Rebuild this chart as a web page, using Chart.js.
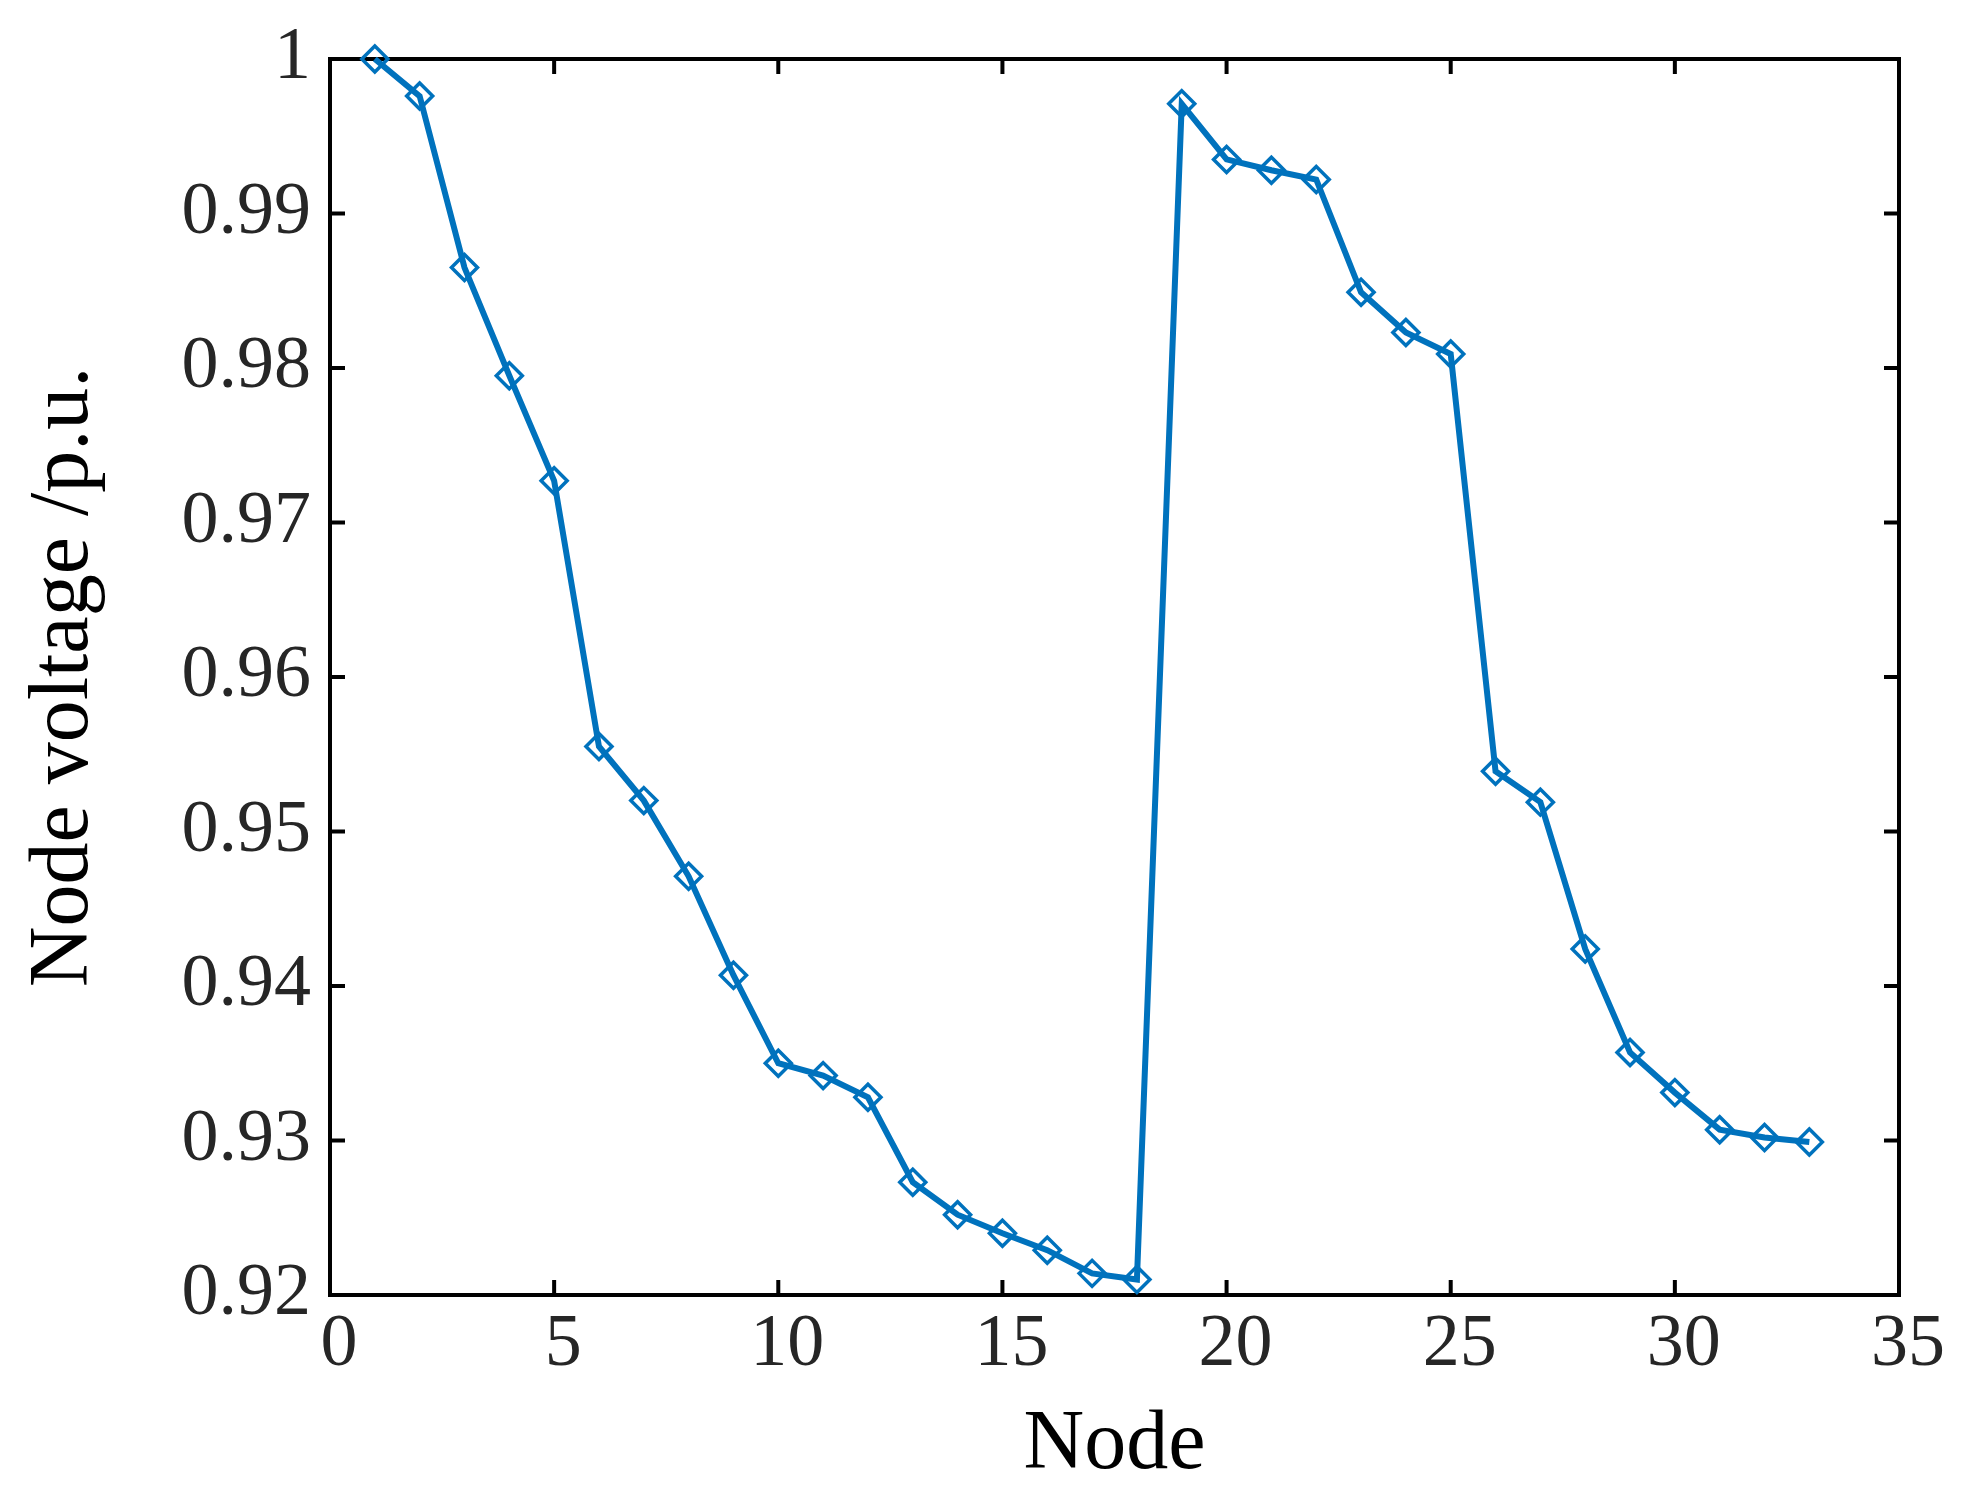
<!DOCTYPE html>
<html>
<head>
<meta charset="utf-8">
<script src="https://cdn.jsdelivr.net/npm/chart.js@4.4.1/dist/chart.umd.min.js"></script>
<style>
html,body{margin:0;padding:0;background:#ffffff;}
canvas{display:block;}
</style>
</head>
<body>
<canvas id="c" width="1967" height="1497"></canvas>
<script>
// ---- data ----
const nodes = [1,2,3,4,5,6,7,8,9,10,11,12,13,14,15,16,17,18,19,20,21,22,23,24,25,26,27,28,29,30,31,32,33];
const voltage = [1.0000,0.9976,0.9865,0.9795,0.9727,0.9555,0.9520,0.9471,0.9407,0.9350,
                 0.9342,0.9328,0.9273,0.9252,0.9240,0.9229,0.9214,0.9210,0.9971,0.9935,
                 0.9928,0.9922,0.9849,0.9823,0.9809,0.9539,0.9519,0.9424,0.9357,0.9331,
                 0.9307,0.9302,0.9299];
const xTickValues = [0,5,10,15,20,25,30,35];
const xTickLabels = ['0','5','10','15','20','25','30','35'];
const yTickValues = [0.92,0.93,0.94,0.95,0.96,0.97,0.98,0.99,1.00];
const yTickLabels = ['0.92','0.93','0.94','0.95','0.96','0.97','0.98','0.99','1'];
const xTitle = 'Node';
const yTitle = 'Node voltage /p.u.';

const lineColor = '#0072BD';
const tickColor = '#262626';

const framePlugin = {
  id: 'frame',
  beforeDatasetsDraw(chart) {
    const {ctx, chartArea: a, scales: {x, y}} = chart;
    const L = 15;
    ctx.save();
    ctx.strokeStyle = '#000000';
    ctx.lineWidth = 4;
    ctx.strokeRect(a.left, a.top, a.right - a.left, a.bottom - a.top);
    ctx.beginPath();
    x.ticks.forEach(t => {
      const px = x.getPixelForValue(t.value);
      ctx.moveTo(px, a.bottom); ctx.lineTo(px, a.bottom - L);
      ctx.moveTo(px, a.top); ctx.lineTo(px, a.top + L);
    });
    y.ticks.forEach(t => {
      const py = y.getPixelForValue(t.value);
      ctx.moveTo(a.left, py); ctx.lineTo(a.left + L, py);
      ctx.moveTo(a.right, py); ctx.lineTo(a.right - L, py);
    });
    ctx.stroke();
    ctx.restore();
  }
};

function labelFor(values, labels, v) {
  for (let i = 0; i < values.length; i++) {
    if (Math.abs(values[i] - v) < 1e-9) return labels[i];
  }
  return '';
}

new Chart(document.getElementById('c'), {
  type: 'line',
  data: {
    datasets: [{
      data: nodes.map((n, i) => ({x: n, y: voltage[i]})),
      borderColor: lineColor,
      borderWidth: 6,
      pointStyle: 'rectRot',
      pointRadius: 13,
      pointBorderWidth: 3.5,
      pointBorderColor: lineColor,
      pointBackgroundColor: 'rgba(0,0,0,0)',
      tension: 0,
      clip: false
    }]
  },
  options: {
    responsive: false,
    animation: false,
    devicePixelRatio: 1,
    layout: {padding: {left: 0, right: 68, top: 59, bottom: 0}},
    plugins: {legend: {display: false}, tooltip: {enabled: false}},
    scales: {
      x: {
        type: 'linear',
        position: 'bottom',
        min: 0, max: 35,
        afterBuildTicks: s => { s.ticks = xTickValues.map(v => ({value: v})); },
        afterFit: s => { s.height = 202; s.paddingLeft = 0; s.paddingRight = 0; },
        grid: {display: false, drawTicks: false},
        border: {display: false},
        ticks: {
          color: tickColor,
          padding: 6,
          labelOffset: 9,
          maxRotation: 0,
          autoSkip: false,
          font: {family: 'Liberation Serif', size: 74},
          callback: v => labelFor(xTickValues, xTickLabels, v)
        },
        title: {
          display: true, text: xTitle, color: '#000000',
          font: {family: 'Liberation Serif', size: 84, lineHeight: 1},
          padding: {top: 0, bottom: 9}
        }
      },
      y: {
        type: 'linear',
        min: 0.92, max: 1.0,
        afterBuildTicks: s => { s.ticks = yTickValues.map(v => ({value: v})); },
        afterFit: s => { s.width = 330; s.paddingTop = 0; s.paddingBottom = 0; },
        grid: {display: false, drawTicks: false},
        border: {display: false},
        ticks: {
          color: tickColor,
          padding: 19,
          autoSkip: false,
          font: {family: 'Liberation Serif', size: 74},
          callback: v => labelFor(yTickValues, yTickLabels, v)
        },
        title: {
          display: true, text: yTitle, color: '#000000',
          font: {family: 'Liberation Serif', size: 84, lineHeight: 1},
          padding: {top: 23, bottom: 0}
        }
      }
    }
  },
  plugins: [framePlugin]
});
</script>
</body>
</html>
